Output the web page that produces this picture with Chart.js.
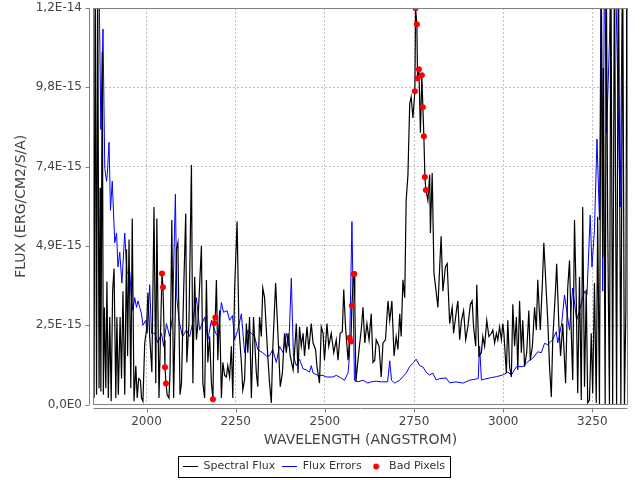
<!DOCTYPE html>
<html><head><meta charset="utf-8">
<script src="https://cdn.jsdelivr.net/npm/chart.js@4.4.0/dist/chart.umd.min.js"></script>
<style>html,body{margin:0;padding:0;background:#fff}canvas{display:block}</style>
</head><body>
<canvas id="c" width="640" height="480" style="width:640px;height:480px"></canvas>
<script>
// Flux values are in units of 1E-15 ERG/CM2/S/A
const fluxWavelengths = [
1850,1853,1856,1860,1863,1867,1870,1872,1876,1879,
1882,1886,1889,1893,1897,1901,1905,1909,1914,1917,
1921,1926,1930,1934,1939,1944,1947,1951,1956,1960,
1965,1970,1974,1978,1983,1986,1990,1995,2000,2004,
2009,2013,2015,2021,2026,2029,2035,2040,2043.4,2046.2,
2050,2051.8,2054.6,2058,2063,2066,2071,2076,2084,2088,
2094,2098,2104,2110,2113,2119,2126,2130,2135,2140,
2144,2150,2154,2158,2163,2168,2172,2177,2182,2186.3,
2189.1,2193,2196,2200,2205,2210,2214,2219,2224,2228,
2233,2238,2242,2247,2254,2259,2266,2270,2275,2280,
2284,2289,2294,2300,2308,2312,2317,2322,2326,2331,
2336,2340,2345,2350,2354,2362,2368,2375,2381,2387,
2392,2397,2403,2411,2415,2420,2425,2429,2434,2439,
2443,2450,2455,2462,2467,2474,2478,2485,2490,2495,
2499,2506,2511,2518,2525,2532,2537,2543,2549,2553,
2558,2565,2569.5,2573.1,2575.9,2580.7,2582.5,2584,2587,2593,
2597,2602,2607,2612,2618,2624,2630,2635,2640,2644,
2652,2658,2663,2670,2677,2682,2688,2694,2700,2705,
2710,2714,2719,2724,2728,2733,2738,2742,2747,2752.5,
2754.4,2758,2760,2763.7,2768,2772,2774.9,2777.7,2780.5,2783.3,
2789,2794,2796,2801,2806,2812,2817,2822,2826,2831,
2838,2843,2850,2857,2861,2869,2873,2878,2883,2889,
2895,2901,2908,2913,2917,2923,2926,2932,2939,2943,
2948,2954,2960,2967,2971,2976,2981,2985,2990,2995,
2999,3002,3009,3013,3018,3023,3027,3032,3037,3041,
3046,3051,3055,3060,3066,3072,3076,3082,3088,3093,
3097,3104,3110,3114,3121,3125,3130,3135,3139,3147,
3150,3156,3161,3167,3175,3181,3186,3191,3195,3200,
3205,3209,3214,3219,3223,3228,3233,3237,3242,3247,
3251,3256,3261,3265,3270,3275,3279,3281,3286,3289,
3293,3298,3302,3307,3312,3318,3323,3330,3335,3340,
3344,3347,3351
];
const fluxValues = [
14,0.2,14,0.3,14,0.5,6.7,0.4,10.9,0.3,
3.0,0.5,3.8,0.2,2.7,0.1,3.5,4.2,0.2,2.7,
0.3,2.7,0.8,3.5,0.3,4.8,1.5,5.1,0.5,5.75,
0.1,1.2,0.2,0.8,0.75,0.2,0.1,1.9,2.3,3.45,
2.1,1.4,1.0,6.1,0.66,5.75,0.2,2.5,4.05,3.62,
2.0,1.15,0.65,0.3,0.2,1.0,5.7,0.2,4.8,5.0,
0.3,0.66,3.45,5.9,1.3,2.5,7.4,0.66,3.95,2.0,
2.5,3.95,4.9,0.66,0.2,3.85,1.3,2.1,0.66,0.16,
2.51,2.69,3.85,1.37,2.9,0.2,1.3,0.9,0.85,1.2,
0.85,1.8,0.2,3.55,5.65,2.4,1.3,0.45,0.76,2.5,
1.6,2.7,0.2,2.7,0.97,0.55,2.7,2.1,3.6,3.3,
2.3,1.5,0.66,0.05,1.7,3.75,2.3,0.55,0.97,2.2,
1.6,2.2,1.5,1.07,1.6,2.5,0.97,2.4,1.8,2.2,
1.5,2.4,1.7,2.5,1.9,1.7,1.17,0.66,2.4,2.2,
1.37,2.5,1.8,2.2,1.6,2.0,1.37,2.2,2.25,3.55,
2.4,1.37,2.06,1.95,3.06,4.03,4.03,3.2,0.7,1.37,
1.8,2.3,3.0,1.9,2.5,2.0,2.8,1.3,1.37,2.0,
1.8,0.85,1.9,2.0,3.2,2.6,3.2,1.5,2.1,1.7,
2.8,2.1,3.85,3.3,6.3,7.1,9.3,9.5,8.85,9.68,
12.24,11.75,10.08,10.36,8.4,10.17,9.18,8.29,7.03,6.63,
6.3,7.1,5.3,7.15,4.05,3.5,3.0,4.25,5.2,3.5,
4.25,4.35,2.5,3.0,2.2,2.9,3.2,2.0,2.6,2.9,
2.0,2.4,3.1,3.2,2.4,1.8,3.7,1.5,1.6,2.1,
1.8,2.6,2.1,2.2,2.3,1.9,2.2,2.0,2.4,2.0,
2.5,2.2,0.97,2.6,1.17,0.85,3.1,1.8,2.7,1.07,
3.2,1.6,2.6,1.17,1.6,2.9,1.37,1.8,3.0,2.3,
3.85,2.3,3.75,5.0,3.45,2.6,1.17,0.23,2.0,3.6,
4.35,2.5,1.5,2.5,0.66,3.6,4.45,2.2,0.76,5.7,
3.2,0.35,3.95,0.14,6.1,0.55,3.55,0.05,0.14,2.2,
0.35,3.75,0.05,5.8,0,14,4.55,10.4,0,14,
5.6,0,14,0,14,0,14,0,14,0,
2.9,14,14
];
const errorWavelengths = [
1850,1856,1861,1866,1872,1878,1883,1888,1890,1895,
1899,1904,1911,1916,1920,1925,1931,1939,1945,1953,
1958,1962,1967,1972,1976,1981,1986,1990,1998,2002,
2009,2014,2023,2032,2042,2048,2056,2065,2073,2081,
2085,2091,2101,2112,2121,2129,2140,2149,2163,2172,
2182,2194,2201,2210,2216,2226,2233,2241,2247,2256,
2266,2275,2284,2294,2303,2312,2326,2336,2345,2354,
2364,2373,2383,2392,2399,2406,2412,2420,2429,2439,
2448,2457,2462,2467,2481,2495,2504,2523,2532,2541,
2555,2565,2569,2576,2583,2593,2607,2621,2630,2644,
2658,2676,2682,2687,2696,2710,2728,2738,2749,2756,
2766,2775,2784,2794,2803,2812,2822,2840,2850,2868,
2887,2906,2925,2930,2934,2939,2962,2981,2999,3013,
3023,3037,3055,3069,3083,3097,3107,3116,3125,3139,
3149,3153,3164,3172,3186,3195,3206,3214,3228,3235,
3244,3249,3256,3263,3270,3275,3279,3284,3290,3298,
3302,3314,3328,3335,3344,3347,3351
];
const errorValues = [
14,14,14,14,8.5,11.6,7.3,6.9,7.1,8.1,
6.0,6.9,5.0,5.3,4.25,4.7,3.75,5.3,4.05,4.1,
3.2,2.9,3.3,3.0,3.2,3.0,2.8,2.45,2.6,2.2,
3.7,2.2,2.2,1.9,2.2,1.8,2.5,2.1,2.7,6.5,
3.3,2.6,2.1,2.3,2.1,2.5,3.3,2.3,2.7,2.0,
2.6,2.2,2.1,3.15,2.85,2.9,2.6,2.75,2.0,2.3,
2.8,1.6,2.3,2.2,2.1,1.7,1.6,1.5,1.5,1.7,
1.3,1.8,1.6,2.2,1.8,3.9,1.5,1.2,1.4,1.1,
1.07,1.0,1.2,0.97,0.9,0.9,0.85,0.85,0.9,0.85,
0.75,0.97,1.5,5.65,0.75,0.7,0.75,0.66,0.7,0.72,
0.7,0.7,1.35,0.75,0.66,0.75,0.97,1.17,1.3,1.4,
1.2,1.16,1.0,0.91,0.97,0.76,0.8,0.82,0.67,0.7,
0.66,0.75,0.79,0.8,1.8,0.76,0.82,0.86,0.91,1.0,
0.91,1.17,1.17,1.32,1.43,1.63,1.6,1.89,1.85,2.0,
2.25,1.9,2.5,3.38,2.3,3.6,2.6,2.9,3.5,3.4,
5.85,4.25,5.4,8.2,5.7,14,3.5,14,8.4,11.2,
14,14,6.1,14,14,11.4,10
];
const badWavelengths = [2043.4,2046.2,2051.8,2054.6,2186.3,2189.1,2193,2569.5,2573.1,2575.9,2580.7,2582.5,
2752.5,2754.4,2758,2760,2763.7,2772,2774.9,2777.7,2780.5,2783.3];
const badValues = [4.05,3.62,1.15,0.65,0.16,2.51,2.69,2.06,1.95,3.06,4.03,4.03,
9.68,12.24,11.75,10.08,10.36,10.17,9.18,8.29,7.03,6.63];

const seriesNames = ['Spectral Flux','Flux Errors','Bad Pixels'];
const xTickValues = [2000,2250,2500,2750,3000,3250];
const yTickValues = [0,2.45,4.9,7.35,9.8,12.25];
const yTickLabels = ['0,0E0','2,5E-15','4,9E-15','7,4E-15','9,8E-15','1,2E-14'];

const toPts = (xs, ys) => xs.map((x, i) => ({x: x, y: ys[i]}));

function lineIcon(color) {
  const c = document.createElement('canvas'); c.width = 15; c.height = 3;
  const g = c.getContext('2d'); g.strokeStyle = color; g.lineWidth = 1;
  g.beginPath(); g.moveTo(0, 1.5); g.lineTo(15, 1.5); g.stroke(); return c;
}
function dotIcon(color) {
  const c = document.createElement('canvas'); c.width = 7; c.height = 7;
  const g = c.getContext('2d'); g.fillStyle = color;
  g.beginPath(); g.arc(3.5, 3.5, 3, 0, Math.PI * 2); g.fill(); return c;
}
const legendIcons = [lineIcon('#000000'), lineIcon('#0000ff'), dotIcon('#ff0000')];

const framePlugin = {
  id: 'frame',
  afterDraw(chart) {
    const {ctx, chartArea: a, scales} = chart;
    ctx.save();
    ctx.strokeStyle = '#808080'; ctx.lineWidth = 1; ctx.setLineDash([]);
    const L = Math.round(a.left) + 0.5, R = Math.round(a.right) - 0.5;
    const T = Math.round(a.top) + 0.5, B = Math.round(a.bottom) - 0.5;
    ctx.strokeRect(L, T, R - L, B - T);
    ctx.beginPath();
    const ax = L - 4;
    ctx.moveTo(ax, T); ctx.lineTo(ax, B);
    yTickValues.forEach(v => { const y = Math.round(scales.y.getPixelForValue(v)) + 0.5; ctx.moveTo(ax - 4, y); ctx.lineTo(ax, y); });
    const ay = B + 4;
    ctx.moveTo(L, ay); ctx.lineTo(R, ay);
    xTickValues.forEach(v => { const x = Math.round(scales.x.getPixelForValue(v)) + 0.5; ctx.moveTo(x, ay); ctx.lineTo(x, ay + 4); });
    ctx.stroke();
    const hb = chart.legend && chart.legend.legendHitBoxes;
    if (hb && hb.length) {
      const f = hb[0], l = hb[hb.length - 1];
      const x0 = Math.round(f.left - 5) + 0.5, y0 = Math.round(f.top - 5) + 0.5;
      const x1 = Math.round(l.left + l.width + 5) + 0.5, y1 = Math.round(f.top + f.height + 5) + 0.5;
      ctx.strokeStyle = '#000'; ctx.strokeRect(x0, y0, x1 - x0, y1 - y0);
    }
    ctx.restore();
  }
};

const tickFont = {family: 'DejaVu Sans', size: 12};
const titleFont = {family: 'DejaVu Sans', size: 14};

new Chart(document.getElementById('c'), {
  type: 'scatter',
  data: {
    datasets: [
      {label: seriesNames[0], data: toPts(fluxWavelengths, fluxValues), showLine: true, borderColor: '#000000', borderWidth: 1.2, pointRadius: 0, pointHoverRadius: 0, tension: 0, order: 1},
      {label: seriesNames[1], data: toPts(errorWavelengths, errorValues), showLine: true, borderColor: '#0000ff', borderWidth: 1, pointRadius: 0, pointHoverRadius: 0, tension: 0, order: 2},
      {label: seriesNames[2], data: toPts(badWavelengths, badValues), showLine: false, backgroundColor: '#ff0000', borderColor: '#ff0000', borderWidth: 0, pointRadius: 3, pointHoverRadius: 3, order: 0}
    ]
  },
  options: {
    responsive: false, animation: false, devicePixelRatio: 1,
    layout: {padding: {left: 0, right: 12, top: 8, bottom: -2}},
    events: [],
    plugins: {
      tooltip: {enabled: false},
      legend: {
        position: 'bottom',
        labels: {
          usePointStyle: true, pointStyleWidth: 15, padding: 7, color: '#333',
          font: {family: 'DejaVu Sans', size: 11},
          generateLabels: (chart) => chart.data.datasets.map((ds, i) => ({
            text: ds.label, pointStyle: legendIcons[i], datasetIndex: i, hidden: false,
            fillStyle: 'rgba(0,0,0,0)', strokeStyle: 'rgba(0,0,0,0)', lineWidth: 0, fontColor: '#333'
          }))
        }
      }
    },
    scales: {
      x: {
        type: 'linear', min: 1850, max: 3350,
        afterBuildTicks: s => { s.ticks = xTickValues.map(v => ({value: v})); },
        afterFit: s => { s.height = 49.5; s.paddingLeft = 0; s.paddingRight = 0; },
        ticks: {font: tickFont, color: '#444', padding: 10, maxRotation: 0, autoSkip: false, callback: v => String(v)},
        grid: {color: '#c0c0c0', lineWidth: 1, drawTicks: false},
        border: {display: false, dash: [2, 2]},
        title: {display: true, text: 'WAVELENGTH (ANGSTROM)', font: titleFont, color: '#444', padding: {top: 0, bottom: 5}}
      },
      y: {
        type: 'linear', min: 0, max: 12.25,
        afterBuildTicks: s => { s.ticks = yTickValues.map(v => ({value: v})); },
        afterFit: s => { s.width = 93; s.paddingTop = 0; s.paddingBottom = 0; },
        ticks: {font: tickFont, color: '#444', padding: 11, autoSkip: false, callback: (v, i) => yTickLabels[i]},
        grid: {color: '#c0c0c0', lineWidth: 1, drawTicks: false},
        border: {display: false, dash: [2, 2]},
        title: {display: true, text: 'FLUX (ERG/CM2/S/A)', font: titleFont, color: '#444', padding: {top: 13, bottom: 0}}
      }
    }
  },
  plugins: [framePlugin]
});
</script>
</body></html>
